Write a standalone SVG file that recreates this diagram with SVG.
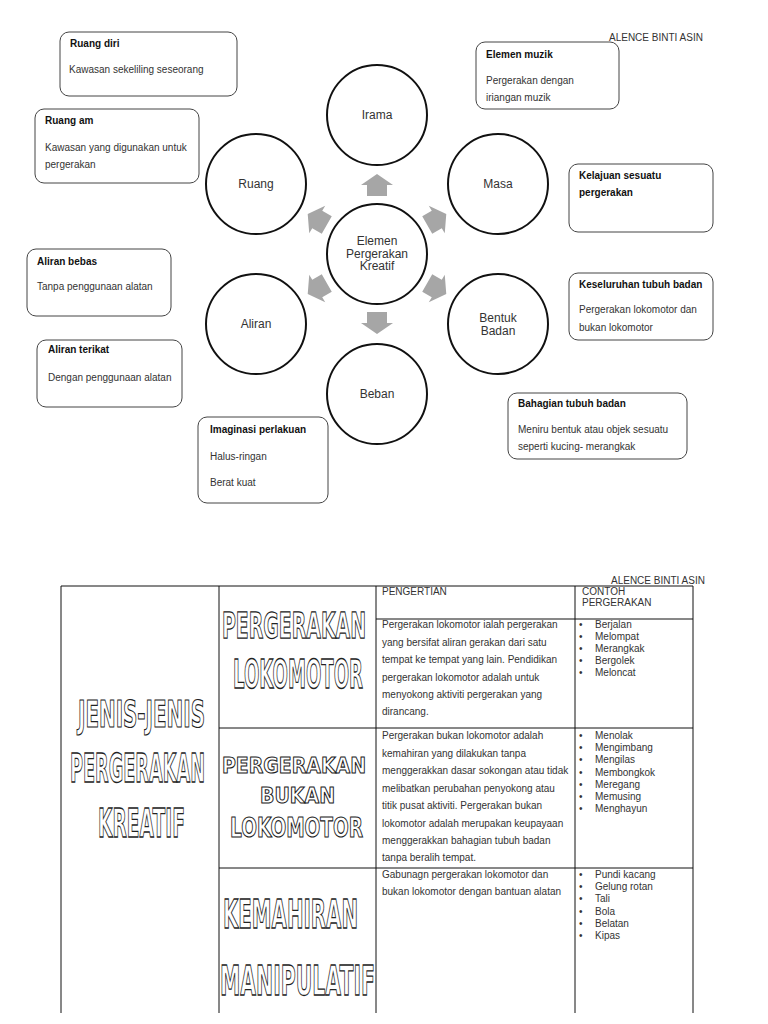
<svg xmlns="http://www.w3.org/2000/svg" width="768" height="1024" viewBox="0 0 768 1024">
<defs>
<style>
.bg{fill:#fff}
.box{fill:#fff;stroke:#444;stroke-width:1}
.circ{fill:#fff;stroke:#111;stroke-width:2}
.t{font-family:"Liberation Sans",Arial,sans-serif;font-size:10px;fill:#333}
.b{font-family:"Liberation Sans",Arial,sans-serif;font-size:10px;font-weight:bold;fill:#111}
.cl{font-family:"Liberation Sans",Arial,sans-serif;font-size:12px;fill:#333;text-anchor:middle}
.arr{fill:#a6a6a6}
.grid{stroke:#111;stroke-width:1;fill:none}
.wa{font-family:"DejaVu Sans",sans-serif;font-weight:bold;fill:#fff;stroke:#222;stroke-width:1;vector-effect:non-scaling-stroke}
</style>
<polygon id="arrowUp" points="0,-80 16,-69 10,-69 10,-58 -10,-58 -10,-69 -16,-69"/>
</defs>
<rect class="bg" x="0" y="0" width="768" height="1024"/>

<text class="t" x="609" y="41">ALENCE BINTI ASIN</text>

<g id="connectors">
<use href="#arrowUp" class="arr" transform="translate(377,254) rotate(0)"/>
<use href="#arrowUp" class="arr" transform="translate(377,254) rotate(60)"/>
<use href="#arrowUp" class="arr" transform="translate(377,254) rotate(120)"/>
<use href="#arrowUp" class="arr" transform="translate(377,254) rotate(180)"/>
<use href="#arrowUp" class="arr" transform="translate(377,254) rotate(240)"/>
<use href="#arrowUp" class="arr" transform="translate(377,254) rotate(300)"/>
</g>

<g id="node-center">
<circle class="circ" cx="377" cy="254" r="50"/>
<text class="cl" x="377" y="245">Elemen</text>
<text class="cl" x="377" y="257.5">Pergerakan</text>
<text class="cl" x="377" y="270">Kreatif</text>
</g>
<g id="node-irama">
<circle class="circ" cx="377" cy="115" r="50"/>
<text class="cl" x="377" y="119">Irama</text>
</g>
<g id="node-masa">
<circle class="circ" cx="498" cy="184" r="50"/>
<text class="cl" x="498" y="188">Masa</text>
</g>
<g id="node-bentuk">
<circle class="circ" cx="498" cy="324" r="50"/>
<text class="cl" x="498" y="322">Bentuk</text>
<text class="cl" x="498" y="335">Badan</text>
</g>
<g id="node-beban">
<circle class="circ" cx="377" cy="394" r="50"/>
<text class="cl" x="377" y="398">Beban</text>
</g>
<g id="node-aliran">
<circle class="circ" cx="256" cy="324" r="50"/>
<text class="cl" x="256" y="328">Aliran</text>
</g>
<g id="node-ruang">
<circle class="circ" cx="256" cy="184" r="50"/>
<text class="cl" x="256" y="188">Ruang</text>
</g>

<g id="box-ruang-diri">
<rect class="box" x="60" y="32" width="177" height="64" rx="9"/>
<text class="b" x="70" y="46.5">Ruang diri</text>
<text class="t" x="69" y="73">Kawasan sekeliling seseorang</text>
</g>
<g id="box-ruang-am">
<rect class="box" x="35" y="109" width="164" height="74" rx="9"/>
<text class="b" x="45" y="123.5">Ruang am</text>
<text class="t" x="45" y="151">Kawasan yang digunakan untuk</text>
<text class="t" x="45" y="168">pergerakan</text>
</g>
<g id="box-elemen-muzik">
<rect class="box" x="476" y="42" width="143" height="67" rx="9"/>
<text class="b" x="486" y="58">Elemen muzik</text>
<text class="t" x="486" y="84">Pergerakan dengan</text>
<text class="t" x="486" y="101">iriangan muzik</text>
</g>
<g id="box-kelajuan">
<rect class="box" x="569" y="164" width="144" height="68" rx="9"/>
<text class="b" x="579" y="179">Kelajuan sesuatu</text>
<text class="b" x="579" y="196">pergerakan</text>
</g>
<g id="box-keseluruhan">
<rect class="box" x="569" y="273" width="144" height="67" rx="9"/>
<text class="b" x="579" y="288">Keseluruhan tubuh badan</text>
<text class="t" x="579" y="313">Pergerakan lokomotor dan</text>
<text class="t" x="579" y="331">bukan lokomotor</text>
</g>
<g id="box-aliran-bebas">
<rect class="box" x="27" y="249" width="144" height="67" rx="9"/>
<text class="b" x="37" y="265">Aliran bebas</text>
<text class="t" x="37" y="290">Tanpa penggunaan alatan</text>
</g>
<g id="box-aliran-terikat">
<rect class="box" x="37" y="340" width="145" height="67" rx="9"/>
<text class="b" x="48" y="353">Aliran terikat</text>
<text class="t" x="48" y="381">Dengan penggunaan alatan</text>
</g>
<g id="box-imaginasi">
<rect class="box" x="198" y="417" width="130" height="86" rx="9"/>
<text class="b" x="210" y="433">Imaginasi perlakuan</text>
<text class="t" x="210" y="460">Halus-ringan</text>
<text class="t" x="210" y="486">Berat kuat</text>
</g>
<g id="box-bahagian">
<rect class="box" x="508" y="393" width="179" height="66" rx="9"/>
<text class="b" x="518" y="407">Bahagian tubuh badan</text>
<text class="t" x="518" y="433">Meniru bentuk atau objek sesuatu</text>
<text class="t" x="518" y="450">seperti kucing- merangkak</text>
</g>

<text class="t" x="611" y="584">ALENCE BINTI ASIN</text>

<g id="table">
<path class="grid" d="M61,586 H693 M61,586 V1013 M219,586 V1013 M376,586 V1013 M575,586 V1013 M693,586 V1013 M376,619 H693 M219,728 H693 M219,868 H693"/>
</g>

<g id="cell-title">
<text class="wa" x="0" y="0" font-size="20" textLength="127" lengthAdjust="spacingAndGlyphs" transform="translate(78,726.5) scale(1,1.82)">JENIS-JENIS</text>
<text class="wa" x="0" y="0" font-size="17.7" textLength="135" lengthAdjust="spacingAndGlyphs" transform="translate(70,782) scale(1,2.25)">PERGERAKAN</text>
<text class="wa" x="0" y="0" font-size="18.4" textLength="87" lengthAdjust="spacingAndGlyphs" transform="translate(98,837) scale(1,2.16)">KREATIF</text>
</g>

<g id="cell-header">
<text class="t" x="382" y="595">PENGERTIAN</text>
<text class="t" x="582" y="595">CONTOH</text>
<text class="t" x="582" y="606">PERGERAKAN</text>
</g>

<g id="row-lokomotor">
<text class="wa" x="0" y="0" font-size="18.9" textLength="144" lengthAdjust="spacingAndGlyphs" transform="translate(222,638) scale(1,1.89)">PERGERAKAN</text>
<text class="wa" x="0" y="0" font-size="17.9" textLength="130" lengthAdjust="spacingAndGlyphs" transform="translate(233,688) scale(1,2.15)">LOKOMOTOR</text>
<text class="t" x="382" y="628">Pergerakan lokomotor ialah pergerakan</text>
<text class="t" x="382" y="645.5">yang bersifat aliran gerakan dari satu</text>
<text class="t" x="382" y="663">tempat ke tempat yang lain. Pendidikan</text>
<text class="t" x="382" y="680.5">pergerakan lokomotor adalah untuk</text>
<text class="t" x="382" y="698">menyokong aktiviti pergerakan yang</text>
<text class="t" x="382" y="715">dirancang.</text>
<text class="t" x="579" y="628">•</text><text class="t" x="595" y="628">Berjalan</text>
<text class="t" x="579" y="640">•</text><text class="t" x="595" y="640">Melompat</text>
<text class="t" x="579" y="652">•</text><text class="t" x="595" y="652">Merangkak</text>
<text class="t" x="579" y="664">•</text><text class="t" x="595" y="664">Bergolek</text>
<text class="t" x="579" y="676">•</text><text class="t" x="595" y="676">Meloncat</text>
</g>

<g id="row-bukan-lokomotor">
<text class="wa" x="0" y="0" font-size="18.9" textLength="144" lengthAdjust="spacingAndGlyphs" transform="translate(222,773) scale(1,1.16)">PERGERAKAN</text>
<text class="wa" x="0" y="0" font-size="18.9" textLength="75" lengthAdjust="spacingAndGlyphs" transform="translate(260,803) scale(1,1.09)">BUKAN</text>
<text class="wa" x="0" y="0" font-size="18.3" textLength="133" lengthAdjust="spacingAndGlyphs" transform="translate(230,837) scale(1,1.5)">LOKOMOTOR</text>
<text class="t" x="382" y="739">Pergerakan bukan lokomotor adalah</text>
<text class="t" x="382" y="756.5">kemahiran yang dilakukan tanpa</text>
<text class="t" x="382" y="774">menggerakkan dasar sokongan atau tidak</text>
<text class="t" x="382" y="791.5">melibatkan perubahan penyokong atau</text>
<text class="t" x="382" y="809">titik pusat aktiviti. Pergerakan bukan</text>
<text class="t" x="382" y="826.5">lokomotor adalah merupakan keupayaan</text>
<text class="t" x="382" y="844">menggerakkan bahagian tubuh badan</text>
<text class="t" x="382" y="861">tanpa beralih tempat.</text>
<text class="t" x="579" y="739">•</text><text class="t" x="595" y="739">Menolak</text>
<text class="t" x="579" y="751">•</text><text class="t" x="595" y="751">Mengimbang</text>
<text class="t" x="579" y="763">•</text><text class="t" x="595" y="763">Mengilas</text>
<text class="t" x="579" y="775.5">•</text><text class="t" x="595" y="775.5">Membongkok</text>
<text class="t" x="579" y="788">•</text><text class="t" x="595" y="788">Meregang</text>
<text class="t" x="579" y="800">•</text><text class="t" x="595" y="800">Memusing</text>
<text class="t" x="579" y="812">•</text><text class="t" x="595" y="812">Menghayun</text>
</g>

<g id="row-manipulatif">
<text class="wa" x="0" y="0" font-size="19.8" textLength="135" lengthAdjust="spacingAndGlyphs" transform="translate(223,928) scale(1,1.94)">KEMAHIRAN</text>
<text class="wa" x="0" y="0" font-size="20.2" textLength="155" lengthAdjust="spacingAndGlyphs" transform="translate(220,995) scale(1,2.04)">MANIPULATIF</text>
<text class="t" x="382" y="878">Gabunagn pergerakan lokomotor dan</text>
<text class="t" x="382" y="895">bukan lokomotor dengan bantuan alatan</text>
<text class="t" x="579" y="878">•</text><text class="t" x="595" y="878">Pundi kacang</text>
<text class="t" x="579" y="890">•</text><text class="t" x="595" y="890">Gelung rotan</text>
<text class="t" x="579" y="902">•</text><text class="t" x="595" y="902">Tali</text>
<text class="t" x="579" y="914.5">•</text><text class="t" x="595" y="914.5">Bola</text>
<text class="t" x="579" y="927">•</text><text class="t" x="595" y="927">Belatan</text>
<text class="t" x="579" y="939">•</text><text class="t" x="595" y="939">Kipas</text>
</g>
</svg>
